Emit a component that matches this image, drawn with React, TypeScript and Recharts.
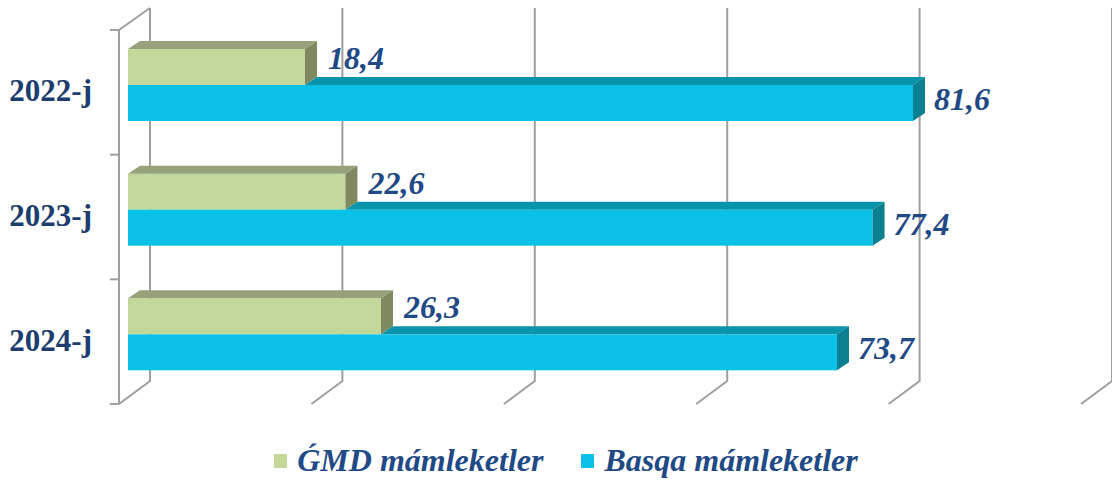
import React from 'react';
import { BarChart, Bar, XAxis, YAxis, CartesianGrid, LabelList, Legend } from 'recharts';

const categories = ['2022-j', '2023-j', '2024-j'];
const gmdValues = [18.4, 22.6, 26.3];
const basqaValues = [81.6, 77.4, 73.7];
const xTicks = [0, 20, 40, 60, 80, 100];
const seriesNames = ['ǴMD mámleketler', 'Basqa mámleketler'];

const data = categories.map((c, i) => ({ cat: c, gmd: gmdValues[i], basqa: basqaValues[i] }));

const W = 1112;
const H = 484;
const DX = 12;
const DY = -8;
const FONT = 'Liberation Serif, serif';
const LABEL_COLOR = '#1f4a86';
const GRID = '#9f9f9f';

const GREEN = { front: '#c4d79b', top: '#98a27a', side: '#7f895f' };
const BLUE = { front: '#0ac2e8', top: '#0a94ac', side: '#0a8091' };

const fmt = (v: number) => v.toFixed(1).replace('.', ',');

const GreenShape = (p: any) => {
  const { x, y, width: w, height: h } = p;
  return (
    <g>
      <rect x={x} y={y} width={w} height={h} fill={GREEN.front} />
      <polygon points={`${x},${y} ${x + w},${y} ${x + w + DX},${y + DY} ${x + DX},${y + DY}`} fill={GREEN.top} />
      <polygon points={`${x + w},${y} ${x + w + DX},${y + DY} ${x + w + DX},${y + h + DY} ${x + w},${y + h}`} fill={GREEN.side} />
    </g>
  );
};

const BlueShape = (p: any) => {
  const { x, y, width: w, height: h, payload } = p;
  const wg = payload && payload.basqa ? (w * payload.gmd) / payload.basqa : 0;
  return (
    <g>
      <rect x={x} y={y} width={w} height={h} fill={BLUE.front} />
      <polygon points={`${x + wg},${y} ${x + wg + DX},${y + DY} ${x + w + DX},${y + DY} ${x + w},${y}`} fill={BLUE.top} />
      <polygon points={`${x + w},${y} ${x + w + DX},${y + DY} ${x + w + DX},${y + h + DY} ${x + w},${y + h}`} fill={BLUE.side} />
    </g>
  );
};

const makeLabel = (dxOff: number, dyOff: number) => (p: any) => {
  const vb = p.viewBox || p;
  const x = vb.x;
  const y = vb.y;
  const w = vb.width;
  const h = vb.height;
  return (
    <text
      x={x + w + dxOff}
      y={y + h / 2 + dyOff}
      fill={LABEL_COLOR}
      style={{ fontFamily: FONT, fontWeight: 'bold', fontStyle: 'italic', fontSize: 32 }}
    >
      {fmt(Number(p.value))}
    </text>
  );
};

const GridLine = (p: any) => {
  const X = p.x1;
  const top = Math.min(p.y1, p.y2);
  const bottom = Math.max(p.y1, p.y2);
  const idx = p.index;
  const parts: React.ReactNode[] = [];
  parts.push(
    <path
      key="g"
      d={`M ${X + 22} ${top - 15} L ${X + 22} ${bottom - 16} L ${X - 9} ${bottom + 7}`}
      stroke={GRID}
      strokeWidth={2}
      fill="none"
    />
  );
  if (idx === 0) {
    parts.push(
      <path
        key="w"
        d={`M ${X - 9} ${bottom + 7} L ${X - 9} ${top + 7} L ${X + 22} ${top - 15}`}
        stroke={GRID}
        strokeWidth={2}
        fill="none"
      />
    );
    const n = categories.length;
    for (let i = 0; i <= n; i++) {
      const yy = top + 7 + (i * (bottom - top)) / n;
      parts.push(<line key={`t${i}`} x1={X - 18} x2={X - 9} y1={yy} y2={yy} stroke={GRID} strokeWidth={2} />);
    }
  }
  return <g key={p.key}>{parts}</g>;
};

const CatTick = (p: any) => (
  <text
    x={p.x - 36}
    y={p.y + 16}
    textAnchor="end"
    fill="#1c3d6e"
    style={{ fontFamily: FONT, fontWeight: 'bold', fontSize: 31 }}
  >
    {p.payload.value}
  </text>
);

const LegendContent = () => (
  <div
    style={{
      width: W,
      display: 'flex',
      justifyContent: 'center',
      alignItems: 'center',
      paddingLeft: 20,
      boxSizing: 'border-box',
      fontFamily: FONT,
      fontWeight: 'bold',
      fontStyle: 'italic',
      fontSize: 32,
      color: LABEL_COLOR,
    }}
  >
    {[GREEN.front, BLUE.front].map((c, i) => (
      <div key={i} style={{ display: 'flex', alignItems: 'center', marginRight: i === 0 ? 38 : 0 }}>
        <span style={{ display: 'inline-block', width: 13, height: 14, background: c, marginRight: 10 }} />
        <span>{seriesNames[i]}</span>
      </div>
    ))}
  </div>
);

export default function App() {
  return (
    <div style={{ position: 'absolute', left: 0, top: 0, width: W, height: H, background: '#fff' }}>
      <BarChart
        width={W}
        height={H}
        data={data}
        layout="vertical"
        margin={{ top: 23, right: 22, bottom: 47, left: 28 }}
        barGap={0}
        barSize={36}
      >
        <CartesianGrid horizontal={false} vertical={GridLine} />
        <XAxis type="number" domain={[0, 100]} ticks={xTicks} hide />
        <YAxis
          type="category"
          dataKey="cat"
          width={100}
          axisLine={false}
          tickLine={false}
          tickSize={0}
          tickMargin={0}
          tick={CatTick}
        />
        <Legend
          verticalAlign="bottom"
          height={40}
          wrapperStyle={{ bottom: 2, left: 0, width: W }}
          content={LegendContent}
        />
        <Bar dataKey="gmd" name={seriesNames[0]} fill={GREEN.front} shape={GreenShape} isAnimationActive={false}>
          <LabelList dataKey="gmd" content={makeLabel(23, 2)} />
        </Bar>
        <Bar dataKey="basqa" name={seriesNames[1]} fill={BLUE.front} shape={BlueShape} isAnimationActive={false}>
          <LabelList dataKey="basqa" content={makeLabel(21, 7)} />
        </Bar>
      </BarChart>
    </div>
  );
}
